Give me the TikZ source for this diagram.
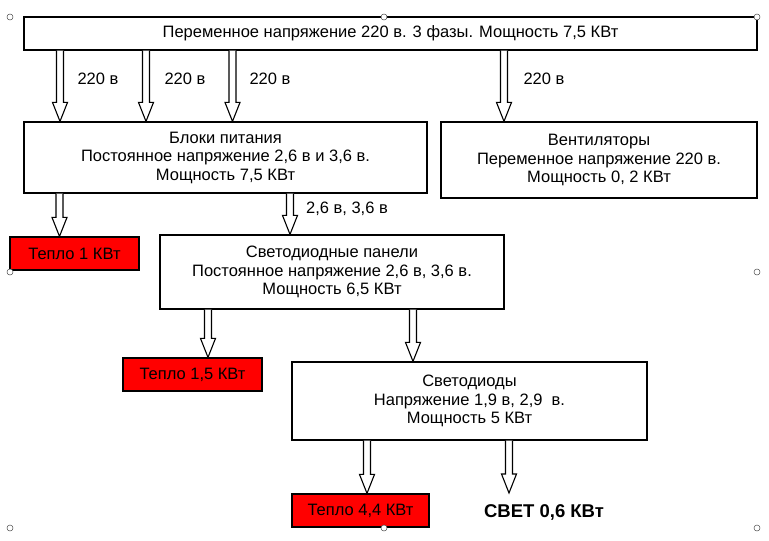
\documentclass[tikz,border=0pt]{standalone}
\usepackage{fontspec}
\setmainfont{Liberation Sans}
\usetikzlibrary{calc}
\newcommand{\flow}[3]{\draw[flow] let \p1=(#1.south), \p2=(#2.north) in
  ({#3pt-3.5pt},\y1) -- ({#3pt-3.5pt},\y2+19pt) -- ({#3pt-7.5pt},\y2+19pt) -- ({#3pt},\y2)
  -- ({#3pt+7.5pt},\y2+19pt) -- ({#3pt+3.5pt},\y2+19pt) -- ({#3pt+3.5pt},\y1);}
\begin{document}
\begin{tikzpicture}[x=1pt,y=-1pt,
  every node/.style={font=\fontsize{16.5}{18.5}\selectfont},
  box/.style={draw,line width=1.2pt,fill=white,align=center,inner sep=0pt},
  heat/.style={box,fill=red},
  flow/.style={draw,line width=1.1pt,fill=white,line join=miter},
  handle/.style={draw=black!70,fill=white,line width=.5pt}]
  \useasboundingbox (0,0) rectangle (769,541);
  \node[box,minimum width=733pt,minimum height=33pt] (mains) at (390.5,33.5) {Переменное напряжение 220 в. 3 фазы. Мощность 7,5 КВт};
  \node[box,minimum width=403pt,minimum height=71pt] (psu) at (225.5,157.5) {Блоки питания\\Постоянное напряжение 2,6 в и 3,6 в.\\Мощность 7,5 КВт};
  \node[box,minimum width=316pt,minimum height=76pt] (fans) at (599,160) {Вентиляторы\\Переменное напряжение 220 в.\\Мощность 0, 2 КВт};
  \node[heat,minimum width=129pt,minimum height=33pt] (heat1) at (74.5,253.5) {Тепло 1 КВт};
  \node[box,minimum width=344pt,minimum height=74pt] (panels) at (332,272) {Светодиодные панели\\Постоянное напряжение 2,6 в, 3,6 в.\\Мощность 6,5 КВт};
  \node[heat,minimum width=139pt,minimum height=33pt] (heat2) at (192.5,374.5) {Тепло 1,5 КВт};
  \node[box,minimum width=355pt,minimum height=78pt] (leds) at (469.5,401) {Светодиоды\\Напряжение 1,9 в, 2,9~ в.\\Мощность 5 КВт};
  \node[heat,minimum width=137pt,minimum height=33pt] (heat3) at (360.5,510.5) {Тепло 4,4 КВт};
  \node[anchor=north,inner xsep=0pt,inner ysep=12pt,text height=12pt,text depth=3pt,font=\fontsize{18.5}{20}\selectfont\bfseries] (light) at (544,493) {СВЕТ 0,6 КВт};
  \flow{mains}{psu}{60}
  \flow{mains}{psu}{146}
  \flow{mains}{psu}{232.5}
  \flow{mains}{fans}{504}
  \flow{psu}{heat1}{59.5}
  \flow{psu}{panels}{290}
  \flow{panels}{heat2}{208}
  \flow{panels}{leds}{413}
  \flow{leds}{heat3}{367}
  \flow{leds}{light}{509}
  \node (v1) at (98,79) {220 в};
  \node (v2) at (185,79) {220 в};
  \node (v3) at (270,79) {220 в};
  \node (v4) at (544,79) {220 в};
  \node (v5) at (347,209) {2,6 в, 3,6 в};
  \foreach \hx/\hy in {10/17,384/17,757/17,10/272,757/272,10/528,384/528,757/528}
    \draw[handle] (\hx,\hy) circle (3pt);
\end{tikzpicture}
\end{document}
